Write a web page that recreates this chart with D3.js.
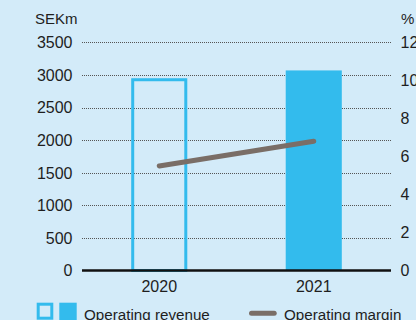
<!DOCTYPE html>
<html><head><meta charset="utf-8">
<script src="https://cdn.jsdelivr.net/npm/d3@7"></script>
<style>
html,body{margin:0;padding:0;background:#d3ebf9;}
svg{display:block;}
text{font-family:"Liberation Sans",Arial,sans-serif;fill:#1e1e1e;}
</style></head>
<body><svg id="c" width="416" height="320"></svg>
<script>
const categories = ["2020", "2021"];
const revenue = [2950, 3070];
const margin = [5.5, 6.8];
const leftTicks = [0, 500, 1000, 1500, 2000, 2500, 3000, 3500];
const rightTicks = [0, 2, 4, 6, 8, 10, 12];
const leftUnit = "SEKm";
const rightUnit = "%";
const legendLabels = ["Operating revenue", "Operating margin"];

const barColor = "#33bbed";
const lineColor = "#7a6e67";
const x0 = 82, x1 = 391, yBase = 270.5, yTop = 42.4;

const svg = d3.select("#c");
svg.append("rect").attr("width", 416).attr("height", 320).attr("fill", "#d3ebf9");

const x = d3.scaleBand().domain(categories).range([x0, x1]).paddingInner(0.637).paddingOuter(0.3185);
const yL = d3.scaleLinear().domain([0, 3500]).range([yBase, yTop]);
const yR = d3.scaleLinear().domain([0, 12]).range([yBase, yTop]);

// gridlines
svg.append("g").selectAll("line").data(leftTicks.filter(d => d > 0)).join("line")
  .attr("x1", x0).attr("x2", x1)
  .attr("y1", d => Math.round(yL(d)) + 0.5).attr("y2", d => Math.round(yL(d)) + 0.5)
  .attr("stroke", "#555").attr("stroke-width", 1).attr("stroke-dasharray", "1,1");

// bars
const bw = x.bandwidth();
svg.append("g").selectAll("rect").data(categories).join("rect")
  .attr("x", (d, i) => i === 0 ? x(d) + 1.5 : x(d))
  .attr("width", (d, i) => i === 0 ? bw - 3 : bw)
  .attr("y", (d, i) => i === 0 ? yL(revenue[i]) + 1.5 : yL(revenue[i]))
  .attr("height", (d, i) => i === 0 ? yBase - yL(revenue[i]) - 1.5 : yBase - yL(revenue[i]))
  .attr("fill", (d, i) => i === 0 ? "none" : barColor)
  .attr("stroke", (d, i) => i === 0 ? barColor : "none")
  .attr("stroke-width", 3);

// line
const line = d3.line().x((d, i) => x(categories[i]) + bw / 2).y(d => yR(d));
svg.append("path").datum(margin).attr("d", line)
  .attr("fill", "none").attr("stroke", lineColor).attr("stroke-width", 5).attr("stroke-linecap", "round");

// baseline
svg.append("line").attr("x1", x0).attr("x2", x1).attr("y1", yBase).attr("y2", yBase)
  .attr("stroke", "#111").attr("stroke-width", 2.7);

// left axis labels
svg.append("g").selectAll("text").data(leftTicks).join("text")
  .attr("x", 72.5).attr("y", d => yL(d) + 5.8).attr("text-anchor", "end")
  .attr("font-size", 16).text(d => d);
svg.append("text").attr("x", 35).attr("y", 24).attr("font-size", 15).text(leftUnit);

// right axis labels
svg.append("g").selectAll("text").data(rightTicks).join("text")
  .attr("x", 400.5).attr("y", d => yR(d) + 5.8).attr("text-anchor", "start")
  .attr("font-size", 16).text(d => d);
svg.append("text").attr("x", 401).attr("y", 24).attr("font-size", 15).text(rightUnit);

// x labels
svg.append("g").selectAll("text").data(categories).join("text")
  .attr("x", d => x(d) + bw / 2).attr("y", 291.5).attr("text-anchor", "middle")
  .attr("font-size", 16).text(d => d);

// legend
svg.append("rect").attr("x", 38.2).attr("y", 304.2).attr("width", 13.6).attr("height", 14)
  .attr("fill", "none").attr("stroke", barColor).attr("stroke-width", 3);
svg.append("rect").attr("x", 59.3).attr("y", 302.7).attr("width", 17.4).attr("height", 17.4).attr("fill", barColor);
svg.append("text").attr("x", 84).attr("y", 319.8).attr("font-size", 15.2).text(legendLabels[0]);
svg.append("line").attr("x1", 251.5).attr("x2", 274.2).attr("y1", 313.3).attr("y2", 313.3)
  .attr("stroke", lineColor).attr("stroke-width", 5).attr("stroke-linecap", "round");
svg.append("text").attr("x", 284).attr("y", 319.8).attr("font-size", 15.2).text(legendLabels[1]);
</script></body></html>
